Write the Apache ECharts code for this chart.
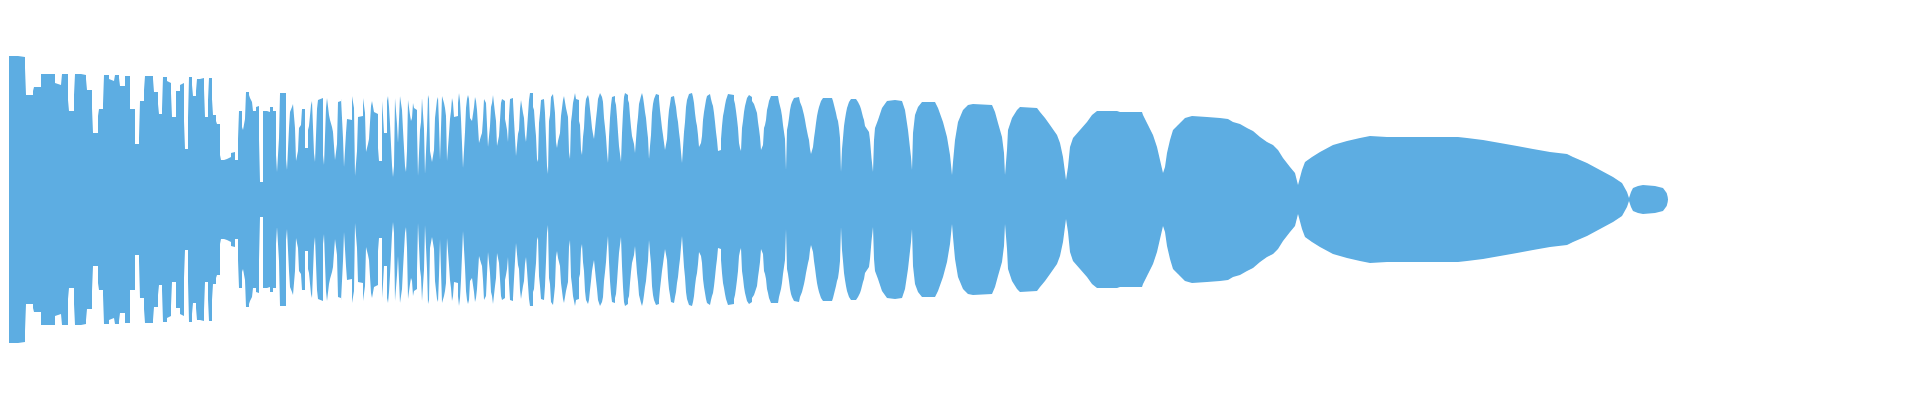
<!DOCTYPE html>
<html>
<head>
<meta charset="utf-8">
<script src="https://cdn.jsdelivr.net/npm/echarts@6/dist/echarts.min.js"></script>
<style>html,body{margin:0;padding:0;background:#fff}#chart{width:1920px;height:400px}</style>
</head>
<body>
<div id="chart"></div>
<script>
// Envelope of the waveform: sample index -> amplitude (mirrored above/below zero)
const stepSamples = [
0,9,16,17,24,25,32,46,47,52,53,59,60,65,66,72,77,78,83,84,89,90,94,95,100,101,105,106,110,111,116,121,126,130,131,135,
136,144,145,149,150,153,154,158,159,162,163,167,171,172,175,176,179,180,183,184,187,188,191,195,196,199,200,203,204,207,208,211,212,215,218,219,222,223,226,229,230,233,234,236,237,240,241,243,244,247,248,250,251,254,258,261,264,267,268,270,271,277,278,280,
281,283,284,286,287,289,290,292,293,296,299,300,302,303,305,306,308,309,311,314,315,317,318,320,321,323,324,326,328,329,331,332,334,335,337,338,340,343,345,346,348,349,351,354,356,357,359,360,362,363,364,365,367,369,370,373,374,375,378,379,380,381,383,384,385,386,388,389,391,393,394,396,397,398,399,401,402,403,404,405,406,408,409,411,412,413,415,416,418,419,420,421,423,425,
426,428,429,430,431,433,435,436,437,438,440,441,442,443,444,445,447,449,450,451,452,454,456,457,458,459,460,461,463,465,466,467,468,470,472,473,474,475,476,477,479,481,482,483,484,485,486,487,488,490,491,492,493,494,495,496,497,498,499,500,501,503,504,505,507,509,510,511,512,513,514,515,516,517,518,520,521,524,525,526,527,528,529,530,531,532,533,534,535,536,537,538,539,540,541,542,543,544,545,546,547,548,549,550,551,552,553,554,555,556,557,558,559,560,561,562,563,564,565,566,567,568,570,
571,572,573,574,575,576,577,578,579,580,581,582,583,584,585,587,588,589,590,591,593,594,595,596,597,598,599,600,601,602,603,604,605,606,607,608,609,610,612,613,614,615,616,618,619,620,621,622,623,624,625,626,628,629,630,631,632,633,634,635,636,637,638,639,640,641,642,643,644,645,646,647,649,650,651,652,653,654,655,656,658,659,660,661,662,663,664,665,666,667,668,669,670,671,672,673,675,676,677,678,679,680,681,683,684,685,686,687,688,689,690,692,693,694,695,696,697,698,699,701,702,703,704,705,706,707,708,709,710,711,712,713,714,715,
716,717,718,719,721,725,726,727,728,729,730,731,732,733,734,735,736,737,738,739,740,742,743,744,745,746,747,748,749,750,751,752,753,754,755,756,757,758,759,760,761,762,769,770,771,772,773,774,775,776,777,778,779,780,781,782,783,784,785,786,790,791,792,793,794,795,796,797,798,799,800,801,802,803,804,805,806,807,808,809,810,811,812,813,814,823,824,825,826,827,828,829,830,831,832,833,834,835,836,837,838,839,840,841,842,847,848,849,850,851,852,853,854,855,856,858,859,860,861
];
const stepAmp = [
143.5,142.5,131.5,104.5,108.5,112.5,125.5,116.5,114.5,116.5,125.5,99.5,88.5,104.5,125.5,124.5,120.5,109.5,91.5,66.5,83.5,90.5,95.5,124.5,120.5,118.5,120.5,124.5,121.5,113.5,123.5,90.5,55.5,61.5,98.5,109.5,
123.5,120.5,107.5,95.5,85.5,90.5,122.5,118.5,116.5,106.5,82.5,108.5,114.5,116.5,78.5,50.5,81.5,122.5,114.5,103.5,108.5,120.5,121.5,110.5,82.5,99.5,121.5,100.5,84.5,78.5,75.5,44.5,39.5,40.5,41.5,42.5,46.5,47.5,39.5,60.5,88.5,72.5,69.5,80.5,107.5,104.5,101.5,97.5,88.5,92.5,93.5,60.5,17.5,88.5,87.5,92.5,88.5,44.5,27.5,61.5,106.5,40.5,29.5,71.5,
87.5,92.5,95.5,71.5,38.5,48.5,71.5,74.5,90.5,51.5,69.5,73.5,94.5,98.5,46.5,37.5,90.5,99.5,101.5,44.5,34.5,91.5,101.5,84.5,79.5,72.5,67.5,39.5,55.5,97.5,98.5,101.5,61.5,32.5,66.5,80.5,79.5,103.5,91.5,23.5,48.5,82.5,83.5,101.5,86.5,47.5,55.5,60.5,93.5,98.5,96.5,87.5,85.5,51.5,38.5,98.5,84.5,66.5,98.5,103.5,92.5,75.5,34.5,22.5,33.5,101.5,75.5,56.5,103.5,89.5,69.5,33.5,27.5,48.5,99.5,84.5,78.5,81.5,96.5,91.5,89.5,70.5,23.5,69.5,77.5,101.5,70.5,25.5,69.5,104.5,100.5,48.5,37.5,49.5,
81.5,99.5,102.5,75.5,39.5,103.5,96.5,91.5,83.5,38.5,65.5,80.5,88.5,101.5,96.5,82.5,83.5,96.5,106.5,98.5,80.5,31.5,67.5,91.5,100.5,104.5,100.5,81.5,78.5,92.5,102.5,98.5,89.5,56.5,63.5,66.5,80.5,100.5,99.5,96.5,52.5,73.5,92.5,96.5,104.5,95.5,86.5,78.5,53.5,63.5,79.5,96.5,100.5,102.5,98.5,80.5,75.5,69.5,57.5,83.5,100.5,101.5,98.5,79.5,43.5,65.5,69.5,90.5,99.5,101.5,86.5,81.5,64.5,57.5,70.5,99.5,106.5,92.5,89.5,74.5,63.5,40.5,37.5,76.5,86.5,99.5,101.5,100.5,99.5,86.5,61.5,33.5,25.5,78.5,84.5,102.5,104.5,105.5,96.5,86.5,57.5,51.5,58.5,59.5,66.5,83.5,91.5,99.5,103.5,102.5,91.5,89.5,82.5,47.5,40.5,77.5,85.5,96.5,98.5,106.5,100.5,99.5,78.5,
74.5,49.5,44.5,62.5,71.5,91.5,100.5,102.5,104.5,100.5,90.5,81.5,71.5,65.5,60.5,80.5,89.5,100.5,102.5,106.5,102.5,97.5,81.5,72.5,62.5,47.5,36.5,62.5,81.5,94.5,102.5,104.5,103.5,98.5,94.5,82.5,67.5,53.5,37.5,66.5,87.5,102.5,106.5,104.5,99.5,96.5,83.5,72.5,63.5,59.5,55.5,46.5,73.5,82.5,95.5,99.5,103.5,106.5,102.5,95.5,87.5,81.5,70.5,61.5,40.5,53.5,64.5,86.5,95.5,100.5,101.5,105.5,104.5,100.5,89.5,80.5,71.5,64.5,62.5,49.5,60.5,78.5,89.5,95.5,102.5,104.5,103.5,102.5,97.5,92.5,83.5,77.5,67.5,59.5,47.5,36.5,67.5,77.5,92.5,99.5,102.5,105.5,106.5,104.5,102.5,96.5,86.5,78.5,73.5,64.5,52.5,56.5,63.5,79.5,87.5,93.5,99.5,103.5,105.5,103.5,100.5,96.5,93.5,86.5,77.5,67.5,59.5,48.5,46.5,49.5,60.5,73.5,83.5,88.5,
94.5,99.5,102.5,105.5,104.5,99.5,95.5,88.5,80.5,71.5,56.5,51.5,48.5,71.5,78.5,87.5,93.5,97.5,101.5,103.5,104.5,102.5,98.5,96.5,95.5,93.5,89.5,86.5,77.5,70.5,62.5,49.5,51.5,54.5,71.5,74.5,79.5,89.5,93.5,98.5,100.5,103.5,101.5,97.5,95.5,89.5,83.5,74.5,67.5,60.5,29.5,69.5,74.5,81.5,89.5,94.5,97.5,99.5,101.5,102.5,100.5,97.5,95.5,92.5,88.5,84.5,79.5,73.5,68.5,63.5,59.5,50.5,45.5,43.5,52.5,61.5,68.5,76.5,83.5,88.5,92.5,95.5,98.5,100.5,101.5,99.5,98.5,94.5,90.5,86.5,81.5,78.5,71.5,61.5,27.5,50.5,61.5,73.5,80.5,86.5,91.5,94.5,97.5,99.5,100.5,99.5,98.5,97.5,95.5,93.5,90.5,86.5,82.5,79.5,73.5,70.5,69.5,67.5,59.5
];
const smoothSamples = [
861,862.5,864,865,866,869,873,878,886,893,896,899,902,903,904,906,909,913,926,929,934,938,941,943,944,946,949,954,959,964,983,986,989,993,995,996,998,999,1003,1008,1011,1028,1031,1036,1041,1048,1051,1054,1057,1059,1061,1064,1071,1078,1083,1088,1108,1111,1133,1134,1139,1144,1148,1151,1154,1156,1158,1161,1164,1169,1176,1183,1198,1211,1219,1224,1231,1238,1244,1251,1258,1264,1269,1274,1281,1286,1289,1293,1296,1303,1311,1324,1338,1351,1361,1378,1449,1458,1474,1491,1508,1524,1541,1558,1564,1578,1591,1604,1613,1618,1620,1622,1624,1629,1634,1646,1654,1657.7,1658.7,1659
];
const smoothAmp = [
59.5,41.5,27.5,59.5,71.5,79.5,91.5,98.5,99.5,98.5,89.5,69.5,42.5,29.5,66.5,84.5,92.5,97.5,97.5,91.5,77.5,62.5,44.5,24.5,37.5,59.5,77.5,89.5,94.5,95.5,94.5,87.5,76.5,62.5,46.5,24.5,49.5,69.5,81.5,89.5,92.5,91.5,87.5,81.5,74.5,64.5,56.5,42.5,19.5,32.5,52.5,61.5,69.5,77.5,84.5,88.5,88.5,87.5,87.5,84.5,74.5,64.5,52.5,39.5,26.5,32.5,46.5,59.5,69.5,74.5,81.5,83.5,82.5,81.5,80.5,77.5,75.5,71.5,68.5,62.5,57.5,54.5,49.5,41.5,32.5,26.5,14.5,29.5,37.5,42.5,47.5,54.5,58.5,61.5,63.5,62.5,62.5,61.5,59.5,56.5,53.5,50.5,47.5,45.5,42.5,36.5,29.5,22.5,16.5,7.5,1.5,7.5,11.5,13.5,14.5,13.5,11.5,6.5,2.5,0
];

const BLUE = '#5dade2';
const pairs = (xs, ys, s) => xs.map((x, i) => [x, s * ys[i]]);
const base = { type: 'line', showSymbol: false, symbol: 'none', silent: true, animation: false,
  sampling: null, lineStyle: { width: 0, opacity: 0 } };

const chart = echarts.init(document.getElementById('chart'), null, { renderer: 'canvas' });
chart.setOption({
  animation: false,
  backgroundColor: '#ffffff',
  grid: { left: 9, right: 0, top: 0, bottom: 1 },
  xAxis: { type: 'value', min: 0, max: 1911, show: false },
  yAxis: { type: 'value', min: -199.5, max: 199.5, show: false },
  series: [
    Object.assign({}, base, { step: 'end', data: pairs(stepSamples, stepAmp, 1), areaStyle: { color: BLUE, opacity: 1, origin: 'start' } }),
    Object.assign({}, base, { data: pairs(smoothSamples, smoothAmp, 1), areaStyle: { color: BLUE, opacity: 1, origin: 'start' } }),
    Object.assign({}, base, { step: 'end', data: pairs(stepSamples, stepAmp, -1), areaStyle: { color: '#ffffff', opacity: 1, origin: 'start' } }),
    Object.assign({}, base, { data: pairs(smoothSamples, smoothAmp, -1), areaStyle: { color: '#ffffff', opacity: 1, origin: 'start' } })
  ]
});
</script>
</body>
</html>
